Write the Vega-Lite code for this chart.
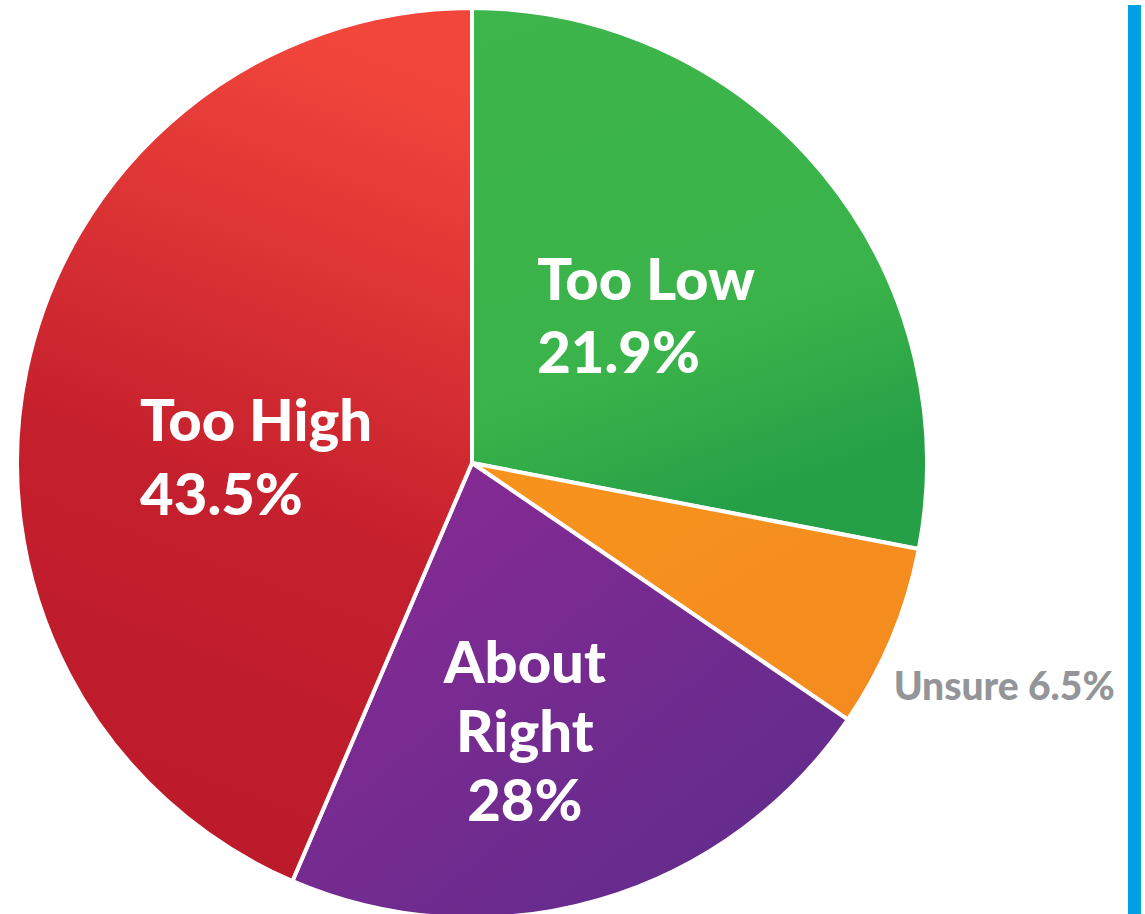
{
  "$schema": "https://vega.github.io/schema/vega-lite/v6.json",
  "padding": 0,
  "background": "white",
  "bounds": "flush",
  "spacing": 184,
  "config": {"view": {"stroke": null}},
  "datasets": {
    "pie": [
      {"idx": 1, "cat": "Too Low", "value": 28.0, "label": "Too Low\n21.9%"},
      {"idx": 2, "cat": "Unsure", "value": 6.5, "label": "Unsure 6.5%"},
      {"idx": 3, "cat": "About Right", "value": 21.9, "label": "About\nRight\n28%"},
      {"idx": 4, "cat": "Too High", "value": 43.5, "label": "Too High\n43.5%"}
    ],
    "edge": [{"part": "edge"}]
  },
  "hconcat": [
    {
      "width": 944,
      "height": 916,
      "data": {"name": "pie"},
      "encoding": {
        "theta": {"field": "value", "type": "quantitative", "stack": true},
        "order": {"field": "idx", "type": "quantitative"},
        "detail": {"field": "cat", "type": "nominal"}
      },
      "layer": [
        {
          "mark": {"type": "arc", "outerRadius": 455, "stroke": "white", "strokeWidth": 4},
          "encoding": {
            "fill": {
              "condition": [
                {"test": "datum.cat === 'Too Low'", "value": {"gradient": "linear", "x1": 0, "y1": 0, "x2": 0.3, "y2": 1, "stops": [{"offset": 0, "color": "#3db54a"}, {"offset": 0.7, "color": "#3ab34a"}, {"offset": 1, "color": "#26a047"}]}},
                {"test": "datum.cat === 'Unsure'", "value": {"gradient": "linear", "x1": 0, "y1": 0, "x2": 1, "y2": 1, "stops": [{"offset": 0, "color": "#f7941d"}, {"offset": 1, "color": "#f48a1f"}]}},
                {"test": "datum.cat === 'About Right'", "value": {"gradient": "linear", "x1": 0, "y1": 0, "x2": 1, "y2": 1, "stops": [{"offset": 0, "color": "#8c2a95"}, {"offset": 1, "color": "#5c2c8b"}]}}
              ],
              "value": {"gradient": "linear", "x1": 0.5, "y1": 0, "x2": 0.3, "y2": 1, "stops": [{"offset": 0, "color": "#f2463b"}, {"offset": 0.55, "color": "#c41f2d"}, {"offset": 1, "color": "#bb1a2a"}]}
            }
          }
        },
        {
          "mark": {"type": "text", "radius": 200, "align": "left", "baseline": "alphabetic", "dx": -89, "dy": -36, "font": "Lato", "fontWeight": 900, "fontSize": 58, "lineHeight": 73, "lineBreak": "\n", "fill": "white"},
          "encoding": {"text": {"condition": {"test": "datum.cat === 'Too Low'", "field": "label"}, "value": ""}}
        },
        {
          "mark": {"type": "text", "radius": 200, "align": "left", "baseline": "alphabetic", "dx": -136, "dy": 18, "font": "Lato", "fontWeight": 900, "fontSize": 58, "lineHeight": 74, "lineBreak": "\n", "fill": "white"},
          "encoding": {"text": {"condition": {"test": "datum.cat === 'Too High'", "field": "label"}, "value": ""}}
        },
        {
          "mark": {"type": "text", "radius": 200, "align": "center", "baseline": "alphabetic", "dx": -3, "dy": 28, "font": "Lato", "fontWeight": 900, "fontSize": 58, "lineHeight": 69, "lineBreak": "\n", "fill": "white"},
          "encoding": {"text": {"condition": {"test": "datum.cat === 'About Right'", "field": "label"}, "value": ""}}
        },
        {
          "mark": {"type": "text", "radius": 460, "align": "left", "baseline": "alphabetic", "dx": -3, "dy": 60, "font": "Lato", "fontWeight": 900, "fontSize": 39, "fill": "#939598"},
          "encoding": {"text": {"condition": {"test": "datum.cat === 'Unsure'", "field": "label"}, "value": ""}}
        }
      ]
    },
    {
      "width": 13,
      "height": 916,
      "data": {"name": "edge"},
      "mark": {"type": "rect"},
      "encoding": {"color": {"value": "#00a1e4"}}
    }
  ]
}
